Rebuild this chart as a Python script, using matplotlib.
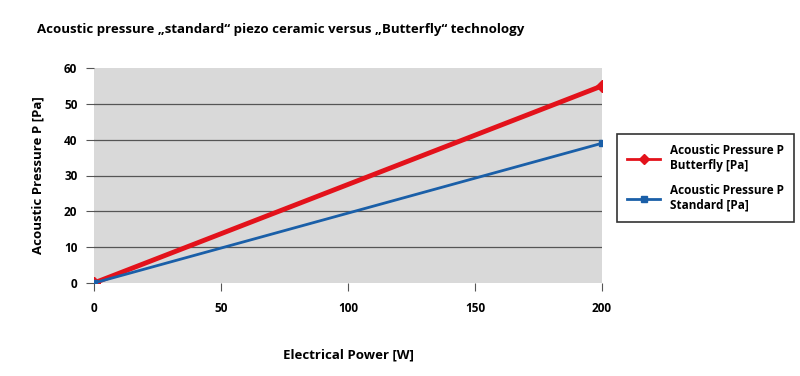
import matplotlib.pyplot as plt

power = [0, 200]
butterfly = [0, 55]
standard = [0, 39]
labels = ["Acoustic Pressure P\nButterfly [Pa]", "Acoustic Pressure P\nStandard [Pa]"]

plt.rcParams['font.family'] = ['Open Sans', 'DejaVu Sans']

fig = plt.figure(figsize=(8, 3.76), dpi=100)
ax = fig.add_axes([94 / 800, 1 - 283 / 376, (602 - 94) / 800, (283 - 68) / 376])
ax.set_facecolor('#d9d9d9')

ax.plot(power, butterfly, color='#e3121b', lw=3.5, marker='D', ms=6, label=labels[0], zorder=3)
ax.plot(power, standard, color='#1a5fa8', lw=2, marker='s', ms=5, label=labels[1], zorder=4)

ax.set_xlim(0, 200)
ax.set_ylim(0, 60)
ax.set_xticks([0, 50, 100, 150, 200])
ax.set_yticks([0, 10, 20, 30, 40, 50, 60])
for y in [10, 20, 30, 40, 50]:
    ax.axhline(y, color='#555555', lw=0.9, zorder=1)
for s in ax.spines.values():
    s.set_visible(False)
ax.tick_params(axis='both', length=6, width=0.8, color='#555555', labelsize=8.5, pad=6)
for t in ax.get_xticklabels() + ax.get_yticklabels():
    t.set_fontweight('bold')
ax.tick_params(axis='x', pad=8)

ax.set_xlabel("Electrical Power [W]", fontsize=9.5, fontweight='bold', labelpad=24)
ax.set_ylabel("Acoustic Pressure P [Pa]", fontsize=9.5, fontweight='bold', labelpad=14)

fig.text(37 / 800, 1 - 30 / 376, "Acoustic pressure \u201estandard\u201c piezo ceramic versus \u201eButterfly\u201c technology",
         fontsize=9.5, fontweight='bold', va='center', ha='left')

leg = ax.legend(loc='center left', bbox_to_anchor=(617 / 800, 1 - 178 / 376), bbox_transform=fig.transFigure,
                borderaxespad=0, fancybox=False, edgecolor='black', fontsize=8.5, handlelength=2.8,
                labelspacing=1.0, borderpad=0.85, handletextpad=0.8)
leg.get_frame().set_linewidth(1.2)
leg.get_lines()[0].set_linewidth(2)
leg.get_lines()[0].set_markersize(5)
for t in leg.get_texts():
    t.set_fontweight('bold')

fig.savefig('out.png', dpi=100)
